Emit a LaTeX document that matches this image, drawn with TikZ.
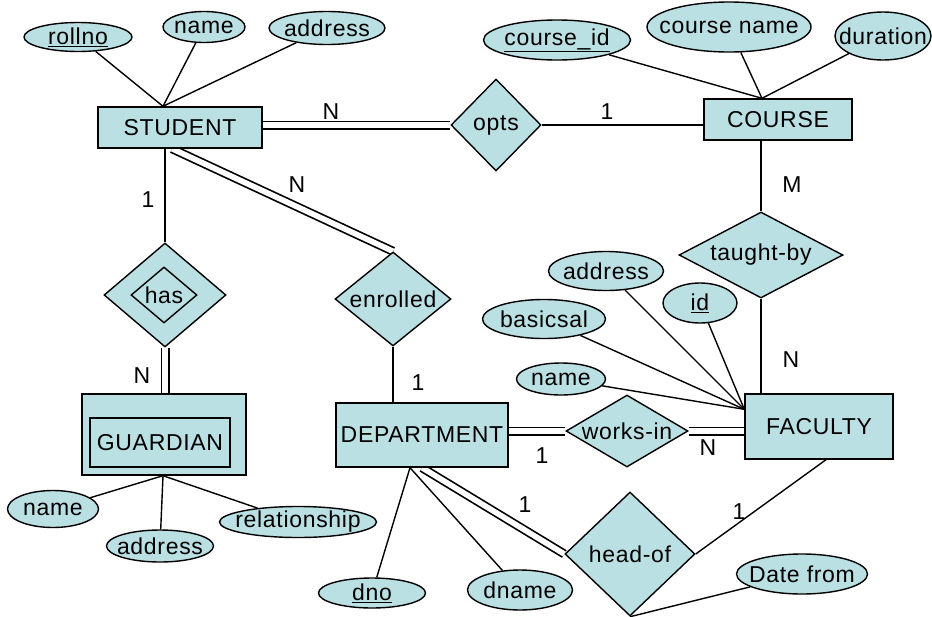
\documentclass[tikz,border=0pt]{standalone}
\usepackage{fontspec}
\setmainfont{Liberation Sans}[LetterSpace=3]
\usetikzlibrary{shapes.geometric,calc,backgrounds}
\definecolor{erfill}{RGB}{186,224,227}
\begin{document}
\begin{tikzpicture}[x=1pt,y=-1pt, line width=1.4pt,
  font=\fontsize{23}{26}\selectfont,
  entity/.style={draw, fill=erfill, rectangle, inner sep=0pt},
  attr/.style 2 args={draw, fill=erfill, ellipse, inner sep=0pt, minimum width=#1, minimum height=#2},
  rel/.style 2 args={draw, fill=erfill, diamond, inner sep=0pt, minimum width=#1, minimum height=#2},
  txt/.style={inner sep=0pt},
  card/.style={inner sep=0pt},
  conn/.style={draw=black, line width=1.4pt},
  dbl/.style={draw=black, line width=9pt, postaction={draw=white, line width=5.6pt}}]
\useasboundingbox (0,0) rectangle (932,616);

% entities
\node[entity, minimum width=164pt, minimum height=41pt] (student) at (180,127.5) {STUDENT};
\node[entity, minimum width=148pt, minimum height=41pt] (course) at (778,119.5) {COURSE};
\node[entity, minimum width=148pt, minimum height=65pt] (faculty) at (819,426.5) {FACULTY};
\node[entity, minimum width=172pt, minimum height=64pt] (department) at (422,435) {DEPARTMENT};
\node[entity, minimum width=164pt, minimum height=81pt] (guardian) at (164,434.5) {};
\node[entity, minimum width=140pt, minimum height=49pt] (guardianin) at (160,442.5) {GUARDIAN};

% relationships
\node[rel={90pt}{92pt}, label={[txt]center:opts}] (opts) at (496,125) {};
\node[rel={164pt}{86pt}, label={[txt]center:taught-by}] (taughtby) at (761,255) {};
\node[rel={116pt}{94pt}, label={[txt]center:enrolled}] (enrolled) at (393,299) {};
\node[rel={122pt}{104pt}] (has) at (165,295) {};
\node[rel={66pt}{56pt}, label={[txt]center:has}] (hasin) at (164,295) {};
\node[rel={122pt}{72pt}, label={[txt]center:works-in}] (worksin) at (627,431) {};
\node[rel={130pt}{124pt}, label={[txt]center:head-of}] (headof) at (630,554) {};

% attributes
\node[attr={108pt}{29pt}, label={[txt]center:\underline{rollno}}] (rollno) at (78,37) {};
\node[attr={82pt}{31pt}, label={[txt]center:name}] (sname) at (204,27) {};
\node[attr={116pt}{33pt}, label={[txt]center:address}] (saddr) at (327,28) {};
\node[attr={147pt}{40pt}, label={[txt]center:\underline{course\_id}}] (cid) at (557,40) {};
\node[attr={164pt}{50pt}, label={[txt]center:course name}] (cname) at (729,27) {};
\node[attr={96pt}{48pt}, label={[txt]center:duration}] (cdur) at (883,36) {};
\node[attr={115pt}{39pt}, label={[txt]center:address}] (faddr) at (606,271) {};
\node[attr={74pt}{40pt}, label={[txt]center:\underline{id}}] (fid) at (700,303) {};
\node[attr={123pt}{39pt}, label={[txt]center:basicsal}] (fsal) at (544,319) {};
\node[attr={89pt}{32pt}, label={[txt]center:name}] (fname) at (561,379) {};
\node[attr={91pt}{37pt}, label={[txt]center:name}] (gname) at (53,509) {};
\node[attr={107pt}{32pt}, label={[txt]center:address}] (gaddr) at (160,546) {};
\node[attr={157pt}{31pt}, label={[txt]center:relationship}] (grel) at (298,522) {};
\node[attr={107pt}{30pt}, label={[txt]center:\underline{dno}}] (dno) at (372,593) {};
\node[attr={105pt}{40pt}, label={[txt]center:dname}] (dname) at (520,590) {};
\node[attr={131pt}{40pt}, label={[txt]center:Date from}] (datefrom) at (802,574) {};

% cardinalities
\node[card] (c1) at (331,112) {N};
\node[card] (c2) at (607,112) {1};
\node[card] (c3) at (297,185) {N};
\node[card] (c4) at (148,200) {1};
\node[card] (c5) at (792,185) {M};
\node[card] (c6) at (142,376) {N};
\node[card] (c7) at (418,383) {1};
\node[card] (c8) at (791,360) {N};
\node[card] (c9) at (542,456) {1};
\node[card] (c10) at (708,448) {N};
\node[card] (c11) at (525,505) {1};
\node[card] (c12) at (739,512) {1};

\coordinate (stutop) at ($(student.north)+(-17,0)$);
\coordinate (crstop) at ($(course.north)+(-16,0)$);
\coordinate (facpt) at ($(faculty.north west)+(0,16)$);
\coordinate (guapt) at ($(guardian.south)+(-1,0)$);
\coordinate (deppt) at ($(department.south)+(-12,0)$);

\begin{scope}[on background layer]
\draw[conn] (rollno) -- (stutop);
\draw[conn] (sname) -- (stutop);
\draw[conn] (saddr) -- (stutop);
\draw[conn] (cid) -- (crstop);
\draw[conn] (cname) -- (crstop);
\draw[conn] (cdur) -- (crstop);
\draw[conn] (faddr) -- (facpt);
\draw[conn] (fid) -- (facpt);
\draw[conn] (fsal) -- (facpt);
\draw[conn] (fname) -- (facpt);
\draw[conn] (gname) -- (guapt);
\draw[conn] (gaddr) -- (guapt);
\draw[conn] (grel) -- (guapt);
\draw[conn] (dno) -- (deppt);
\draw[conn] (dname) -- (deppt);
\draw[conn] (datefrom) -- (headof.south);
\draw[dbl] (student.east |- opts.west) -- (opts.west);
\draw[conn] (opts.east) -- (course.west |- opts.east);
\draw[conn] (student.south -| has.north) -- (has.north);
\draw[dbl] (has.south) -- (has.south |- guardian.north);
\draw[dbl] ($(student.south)+(-8,0)$) -- (enrolled.north);
\draw[conn] (enrolled.south) -- (enrolled.south |- department.north);
\draw[dbl] (department.east |- worksin.west) -- (worksin.west);
\draw[dbl] (worksin.east) -- (faculty.west |- worksin.east);
\draw[dbl] (department.south) -- (headof.west);
\draw[conn] (headof.east) -- ($(faculty.south)+(7,0)$);
\draw[conn] (course.south -| taughtby.north) -- (taughtby.north);
\draw[conn] (taughtby.south) -- (taughtby.south |- faculty.north);
\end{scope}
\end{tikzpicture}
\end{document}
